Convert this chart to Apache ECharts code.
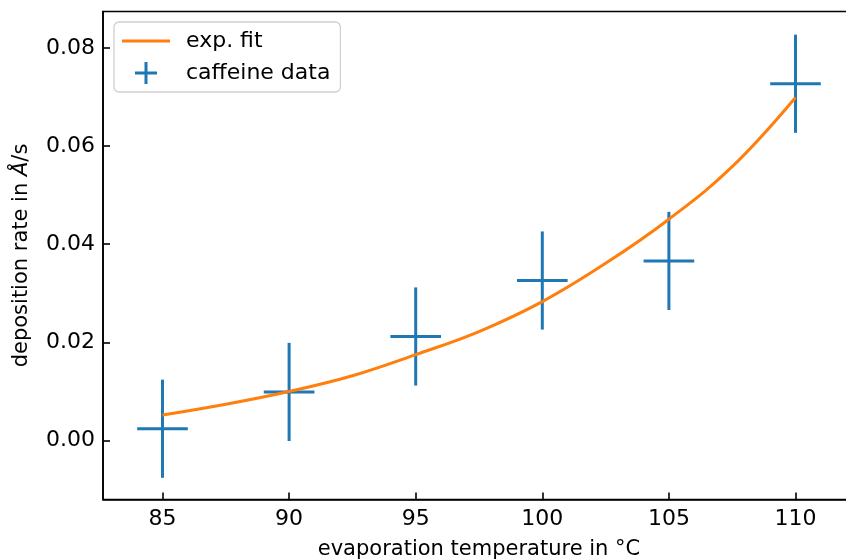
<!DOCTYPE html>
<html>
<head>
<meta charset="utf-8">
<script src="https://cdn.jsdelivr.net/npm/echarts@6/dist/echarts.min.js"></script>
<style>
html,body{margin:0;padding:0;background:#fff;}
#chart{width:846px;height:559px;}
</style>
</head>
<body>
<div id="chart"></div>
<script>
// caffeine data (temperature in °C, rate in Å/s) with errors
const temps = [85, 90, 95, 100, 105, 110];
const rates = [0.0024, 0.0099, 0.0212, 0.0326, 0.0366, 0.0727];
const tempErr = [1, 1, 1, 1, 1, 1];
const rateErr = [0.01, 0.01, 0.01, 0.01, 0.01, 0.01];
// exponential fit curve
const fitX = [85, 87.5, 90, 92.5, 95, 97.5, 100, 102.5, 105, 107.5, 110];
const fitY = [0.0052, 0.0074, 0.0100, 0.0132, 0.0175, 0.0222, 0.0283, 0.0361, 0.0451, 0.0558, 0.0699];
const xTicks = [85, 90, 95, 100, 105, 110];
const yTicks = [0, 0.02, 0.04, 0.06, 0.08];

const chart = echarts.init(document.getElementById('chart'));
const FONT = 'DejaVu Sans';
const errData = temps.map((t, i) => [t, rates[i], tempErr[i], rateErr[i]]);
const fitData = fitX.map((x, i) => [x, fitY[i]]);

chart.setOption({
  animation: false,
  textStyle: {fontFamily: FONT},
  grid: {left: 103, top: 11.5, width: 752, height: 488, outerBoundsMode: 'none', containLabel: false,
         show: true, borderColor: '#000', borderWidth: 1.6, backgroundColor: 'transparent'},
  legend: {
    orient: 'vertical', left: 114, top: 22,
    padding: [8, 10, 8, 8],
    itemWidth: 48, itemHeight: 22, itemGap: 10,
    backgroundColor: 'rgba(255,255,255,0.8)',
    borderColor: '#d0d0d0', borderWidth: 1.3, borderRadius: 5,
    textStyle: {fontFamily: FONT, fontSize: 22, color: '#000', padding: [0, 0, 0, 11]},
    data: [
      {name: 'exp. fit', icon: 'path://M0,0h48v3h-48z'},
      {name: 'caffeine data', icon: 'path://M0,9.5h22v3h-22z M9.5,0h3v22h-3z'}
    ]
  },
  xAxis: {
    type: 'value', min: 82.65, max: 112.35,
    name: 'evaporation temperature in °C', nameLocation: 'middle', nameGap: 40,
    nameTextStyle: {fontFamily: FONT, fontSize: 21, color: '#000'},
    axisLine: {show: true, onZero: false, lineStyle: {color: '#000', width: 1.6}},
    axisTick: {show: true, inside: true, length: 7, customValues: xTicks, lineStyle: {color: '#000', width: 1.6}},
    axisLabel: {fontFamily: FONT, fontSize: 22, color: '#000', margin: 9, customValues: xTicks, formatter: v => String(v)},
    splitLine: {show: false}
  },
  yAxis: {
    type: 'value', min: -0.01202, max: 0.08742,
    name: 'deposition rate in {i|Å}/s', nameLocation: 'middle', nameGap: 71, nameRotate: 90,
    nameTextStyle: {fontFamily: FONT, fontSize: 21, color: '#000', rich: {i: {fontFamily: FONT, fontSize: 21, fontStyle: 'italic', color: '#000'}}},
    axisLine: {show: true, onZero: false, lineStyle: {color: '#000', width: 1.6}},
    axisTick: {show: true, inside: true, length: 7, customValues: yTicks, lineStyle: {color: '#000', width: 1.6}},
    axisLabel: {fontFamily: FONT, fontSize: 22, color: '#000', margin: 8, customValues: yTicks, formatter: v => v.toFixed(2)},
    splitLine: {show: false}
  },
  series: [
    {
      name: 'exp. fit', type: 'line', data: fitData, smooth: 0.4, showSymbol: false, symbol: 'none',
      color: '#ff7f0e', lineStyle: {color: '#ff7f0e', width: 3}, z: 3
    },
    {
      name: 'caffeine data', type: 'custom', data: errData, color: '#1f77b4',
      itemStyle: {color: '#1f77b4'},
      encode: {x: 0, y: 1},
      z: 2,
      renderItem: function (params, api) {
        const x = api.value(0), y = api.value(1), ex = api.value(2), ey = api.value(3);
        const l = api.coord([x - ex, y]), r = api.coord([x + ex, y]);
        const t = api.coord([x, y + ey]), b = api.coord([x, y - ey]);
        const st = {stroke: '#1f77b4', lineWidth: 3, fill: null};
        return {
          type: 'group',
          children: [
            {type: 'line', shape: {x1: l[0], y1: l[1], x2: r[0], y2: r[1]}, style: st},
            {type: 'line', shape: {x1: t[0], y1: t[1], x2: b[0], y2: b[1]}, style: st}
          ]
        };
      }
    }
  ]
});
</script>
</body>
</html>
